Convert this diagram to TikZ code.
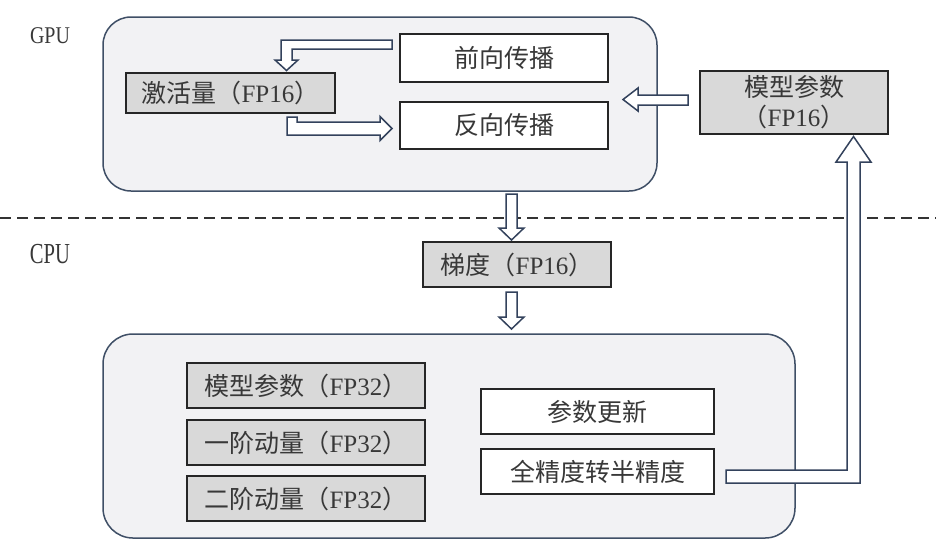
\documentclass[tikz,border=0pt]{standalone}
\usepackage{fontspec}
\setmainfont{Liberation Serif}
\newfontfamily\cjk{Noto Sans CJK SC}
\newfontfamily\gpufont[FakeStretch=0.83]{Liberation Serif}
\newfontfamily\cpufont[FakeStretch=0.71]{Liberation Serif}
\definecolor{panelfill}{HTML}{F2F2F4}
\definecolor{panelline}{HTML}{3F4F66}
\definecolor{arrowline}{HTML}{33425C}
\definecolor{graybox}{HTML}{D9D9D9}
\definecolor{txt}{HTML}{383838}
\tikzset{
  panel/.style={draw=panelline, fill=panelfill, line width=1.5pt, rounded corners=28pt},
  boxbase/.style={draw=black!85, line width=1.4pt, inner sep=0pt, text=txt,
    font=\fontsize{25}{32}\selectfont, align=center},
  whitebox/.style={boxbase, fill=white},
  greybox/.style={boxbase, fill=graybox},
  hollow/.style={draw=arrowline, fill=white, line width=1.5pt, line join=miter},
  sidelabel/.style={text=txt, inner sep=0pt},
}
\begin{document}
\begin{tikzpicture}[x=1pt, y=-1pt]
\useasboundingbox (0,0) rectangle (936,550);
\fill[white] (0,0) rectangle (936,550);

% panels
\draw[panel] (103,17) rectangle (657,191);
\draw[panel, rounded corners=30pt] (103,334) rectangle (795,538);

% dashed separator
\draw[draw=black!80, line width=2pt, dash pattern=on 11pt off 6pt] (0,218) -- (936,218);

% labels
\node[sidelabel, font=\gpufont\fontsize{24}{26}\selectfont] (gpu) at (50,36) {GPU};
\node[sidelabel, font=\cpufont\fontsize{29}{30}\selectfont] (cpu) at (50,254) {CPU};

% GPU nodes
\node[whitebox, minimum width=208pt, minimum height=48pt] (fwd) at (504,58) {\cjk 前向传播};
\node[whitebox, minimum width=208pt, minimum height=47pt] (bwd) at (504,125.5) {\cjk 反向传播};
\node[greybox, minimum width=209pt, minimum height=40pt] (act) at (230.5,93) {{\cjk 激活量（}FP16{\cjk ）}};
\node[greybox, minimum width=188pt, minimum height=63pt] (mp16) at (794,102.5) {{\cjk 模型参数}\\[-2pt]{\cjk （}FP16{\cjk ）}};

% gradient
\node[greybox, minimum width=188pt, minimum height=45pt] (grad) at (517,264.5) {{\cjk 梯度（}FP16{\cjk ）}};

% CPU nodes
\node[greybox, minimum width=238pt, minimum height=45pt] (mp32) at (306,385.5) {{\cjk 模型参数（}FP32{\cjk ）}};
\node[greybox, minimum width=238pt, minimum height=45pt] (m1) at (306,442.5) {{\cjk 一阶动量（}FP32{\cjk ）}};
\node[greybox, minimum width=238pt, minimum height=45pt] (m2) at (306,498.5) {{\cjk 二阶动量（}FP32{\cjk ）}};
\node[whitebox, minimum width=233pt, minimum height=45pt] (upd) at (597.5,411.5) {\cjk 参数更新};
\node[whitebox, minimum width=233pt, minimum height=45pt] (conv) at (597.5,471.5) {\cjk 全精度转半精度};

% hollow arrows
% fwd -> act
\draw[hollow] (392,40) -- (281,40) -- (281,60) -- (275,60) -- (286.5,70.5) -- (298,60) -- (292,60) -- (292,49) -- (392,49) -- cycle;
% act -> bwd
\draw[hollow] (287,117) -- (297,117) -- (297,122) -- (380,122) -- (380,116.5) -- (392,128.5) -- (380,140.5) -- (380,135) -- (287,135) -- cycle;
% mp16 -> GPU panel
\draw[hollow] (688,95) -- (638,95) -- (638,88) -- (623,99.5) -- (638,111) -- (638,105) -- (688,105) -- cycle;
% GPU -> grad
\draw[hollow] (506,194) -- (517,194) -- (517,228) -- (524,228) -- (511.5,240) -- (499,228) -- (506,228) -- cycle;
% grad -> CPU
\draw[hollow] (506,292) -- (517,292) -- (517,317) -- (524,317) -- (511.5,329) -- (499,317) -- (506,317) -- cycle;
% conv -> mp16
\draw[hollow] (726,470) -- (847,470) -- (847,162) -- (836,162) -- (853.5,136.5) -- (871,162) -- (860,162) -- (860,483) -- (726,483) -- cycle;
\end{tikzpicture}
\end{document}
